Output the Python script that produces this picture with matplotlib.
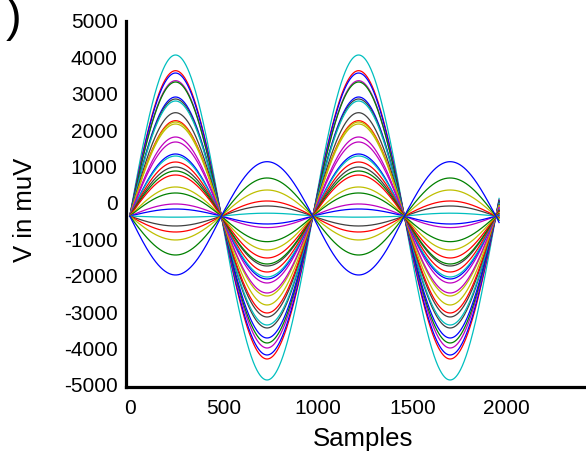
import numpy as np
import matplotlib
matplotlib.use("Agg")
import matplotlib.pyplot as plt

plt.rcParams['font.family'] = ['Liberation Sans', 'DejaVu Sans']

# Value of each curve at the first-half extreme (~x=243)
# and at the second-half extreme (~x=728); the waveform repeats each period.
curve_colors = ['c', 'r', 'b', 'm', 'g', 'b', 'k', 'c', 'k', 'r', 'y', 'y', 'm', 'm',
                'b', 'c', 'r', 'k', 'g', 'r', 'y', 'g', 'm', 'b', 'c',
                'k', 'r', 'y', 'g', 'b']
first_half = [4066, 3635, 3571, 3360, 3324, 2912, 2857, 2802, 2481, 2261, 2225, 2170,
              1813, 1676, 1346, 1291, 1126, 989, 879, 769, 440, 275, -27, -165, -390,
              -632, -797, -1016, -1429, -1978]
second_half = [-4863, -4286, -4176, -3984, -3846, -3709, -3434, -3352, -3132, -3022,
               -2802, -2555, -2473, -2198, -2088, -2033, -1896, -1731, -1676, -1511,
               -1291, -1063, -676, -577, -280,
               -82, 55, 357, 687, 1135]
baseline = -360
period = 971
n_samples = 1960

xticks = [0, 500, 1000, 1500, 2000]
yticks = [-5000, -4000, -3000, -2000, -1000, 0, 1000, 2000, 3000, 4000, 5000]

matlab = {'b': (0, 0, 1), 'g': (0, 0.5, 0), 'r': (1, 0, 0), 'c': (0, 0.75, 0.75),
          'm': (0.75, 0, 0.75), 'y': (0.75, 0.75, 0), 'k': (0.25, 0.25, 0.25)}

fig = plt.figure(figsize=(5.86, 4.59), dpi=100)
ax = fig.add_axes([126/586, 1 - 386.8/459, 1 - 126/586, (386.8 - 21)/459])

x = np.arange(n_samples)
s = np.sin(2 * np.pi * x / period)
for col, p, t in zip(curve_colors, first_half, second_half):
    a_pos = p - baseline
    a_neg = baseline - t
    y = np.where(s > 0, baseline + a_pos * s, baseline + a_neg * s)
    ax.plot(x, y, color=matlab[col], lw=0.9)

ax.set_xlim(-20, 2420)
ax.set_ylim(-5050, 5000)
ax.set_xticks(xticks)
ax.set_yticks(yticks)
ax.set_xticklabels([str(v) for v in xticks])
ax.set_yticklabels([str(v) for v in yticks])
ax.tick_params(length=0, labelsize=15)
ax.tick_params(axis='y', pad=6)
ax.tick_params(axis='x', pad=9)
for side in ['top', 'right']:
    ax.spines[side].set_visible(False)
for side in ['left', 'bottom']:
    ax.spines[side].set_linewidth(2.3)

ax.set_xlabel('Samples', fontsize=18.5)
ax.xaxis.set_label_coords((363 - 126) / 460, -(439 - 386.8) / 365.8)
ax.xaxis.label.set_va('center')
ax.set_ylabel('V in muV', fontsize=18.5)
ax.yaxis.set_label_coords(-(126 - 25) / 460, (386.8 - 210) / 365.8)
ax.yaxis.label.set_va('center')

fig.text(14 / 586, 1 - 19 / 459, ')', fontsize=34, ha='center', va='center')

fig.savefig('out.png', dpi=100)
